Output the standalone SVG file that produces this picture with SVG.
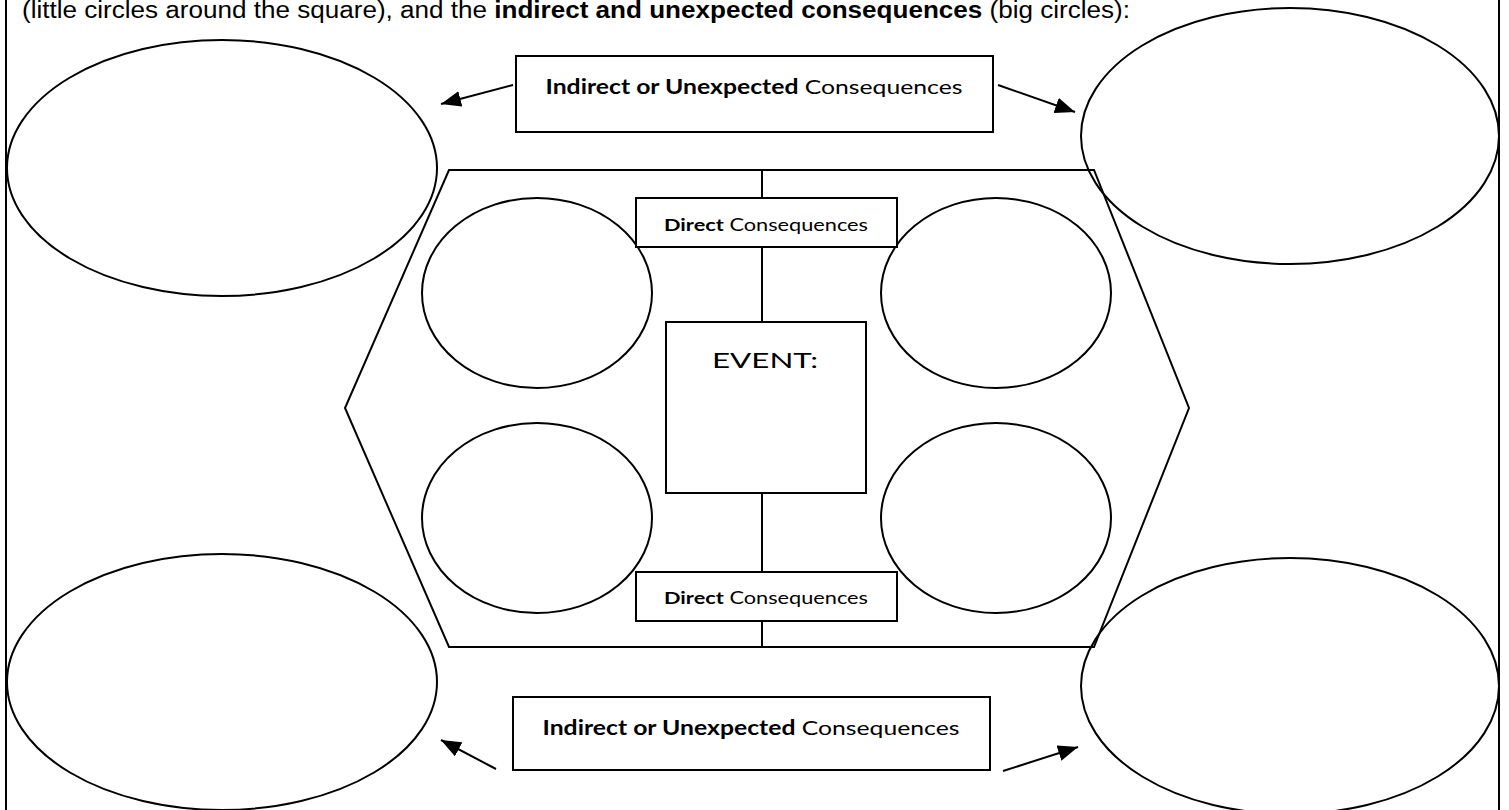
<svg xmlns="http://www.w3.org/2000/svg" width="1509" height="810" viewBox="0 0 1509 810">
<style>
.s{fill:none;stroke:#000;stroke-width:2}
.b{fill:#fff;stroke:#000;stroke-width:2}
.c{font-family:Lato,"Open Sans",sans-serif;fill:#000}
.a{font-family:"Liberation Sans",Arial,sans-serif;fill:#000}
.bold{font-weight:bold}
</style>
<defs>
<marker id="ah2" viewBox="0 0 20 16" markerWidth="20" markerHeight="16" refX="20" refY="8" orient="auto" markerUnits="userSpaceOnUse">
<path d="M0,0 L20,8 L0,16 z" fill="#000"/>
</marker>
</defs>
<rect width="1509" height="810" fill="#fff"/>
<line x1="6" y1="0" x2="6" y2="810" class="s" stroke-width="2.5"/>
<line x1="1499" y1="0" x2="1499" y2="810" class="s" stroke-width="2.5"/>
<text class="a" x="22" y="18" font-size="23" textLength="1108" lengthAdjust="spacingAndGlyphs">(little circles around the square), and the <tspan class="bold">indirect and unexpected consequences</tspan> (big circles):</text>

<g id="big-tl"><ellipse cx="222" cy="168" rx="215" ry="128" class="s"/></g>
<g id="big-tr"><ellipse cx="1290" cy="136" rx="209" ry="128" class="s"/></g>
<g id="big-bl"><ellipse cx="222" cy="682" rx="215" ry="128" class="s"/></g>
<g id="big-br"><ellipse cx="1290" cy="686" rx="209" ry="128" class="s"/></g>

<g id="hexagon"><polygon points="449,170 1094,170 1189,408 1094,647 449,647 345,408" class="s"/></g>

<g id="connectors">
<line x1="762" y1="170" x2="762" y2="647" class="s"/>
<line x1="513" y1="85" x2="441" y2="104" class="s" marker-end="url(#ah2)"/>
<line x1="998" y1="85" x2="1075" y2="112" class="s" marker-end="url(#ah2)"/>
<line x1="496" y1="769" x2="441" y2="740" class="s" marker-end="url(#ah2)"/>
<line x1="1003" y1="771" x2="1078" y2="747" class="s" marker-end="url(#ah2)"/>
</g>

<g id="small-tl"><ellipse cx="537" cy="293" rx="115" ry="95" class="s"/></g>
<g id="small-tr"><ellipse cx="996" cy="293" rx="115" ry="95" class="s"/></g>
<g id="small-bl"><ellipse cx="537" cy="518" rx="115" ry="95" class="s"/></g>
<g id="small-br"><ellipse cx="996" cy="518" rx="115" ry="95" class="s"/></g>

<g id="box-top">
<rect x="516" y="56" width="477" height="76" class="b"/>
<text class="c" x="754" y="94" font-size="20" text-anchor="middle" textLength="417" lengthAdjust="spacingAndGlyphs"><tspan class="bold">Indirect or Unexpected</tspan> Consequences</text>
</g>
<g id="box-bottom">
<rect x="513" y="697" width="477" height="73" class="b"/>
<text class="c" x="751" y="735" font-size="20" text-anchor="middle" textLength="417" lengthAdjust="spacingAndGlyphs"><tspan class="bold">Indirect or Unexpected</tspan> Consequences</text>
</g>
<g id="direct-top">
<rect x="636" y="198" width="261" height="49" class="b"/>
<text class="c" x="766" y="231" font-size="17" text-anchor="middle" textLength="204" lengthAdjust="spacingAndGlyphs"><tspan class="bold">Direct</tspan> Consequences</text>
</g>
<g id="direct-bottom">
<rect x="636" y="572" width="261" height="49" class="b"/>
<text class="c" x="766" y="604" font-size="17" text-anchor="middle" textLength="204" lengthAdjust="spacingAndGlyphs"><tspan class="bold">Direct</tspan> Consequences</text>
</g>
<g id="event">
<rect x="666" y="322" width="200" height="171" class="b"/>
<text class="c" x="712" y="368" font-size="22" textLength="106" lengthAdjust="spacingAndGlyphs">EVENT:</text>
</g>
</svg>
